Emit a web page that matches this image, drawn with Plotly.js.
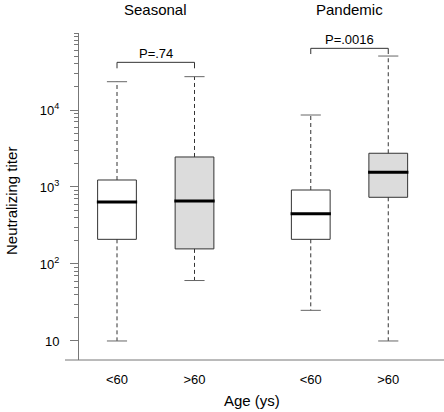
<!DOCTYPE html>
<html>
<head>
<meta charset="utf-8">
<script src="https://cdn.plot.ly/plotly-3.0.1.min.js"></script>
<style>html,body{margin:0;padding:0;background:#fff;}#chart{width:444px;height:412px;}</style>
</head>
<body>
<div id="chart"></div>
<script>
// ---- data ----
const groups = ["Seasonal", "Pandemic"];
const ageLabels = ["<60", ">60", "<60", ">60"];
const lowerWhisker = [10, 61, 25, 10];
const q1 = [209, 157, 209, 735];
const median = [638, 658, 450, 1552];
const q3 = [1233, 2454, 914, 2742];
const upperWhisker = [23300, 27100, 8610, 50200];
const pValues = ["P=.74", "P=.0016"];
const bracketTop = [41600, 63200];
const bracketFoot = [34800, 53300];

// ---- layout positions ----
const xPos = [1, 2, 3.5, 4.5];
const groupCenters = [1.5, 4];
const boxWidth = 0.5;
const capHalf = 0.13;
const FONT = "Liberation Sans, Arial, Helvetica, sans-serif";
const fills = ["#ffffff", "#dcdcdc", "#ffffff", "#dcdcdc"];

const traces = [];

// whiskers (dashed)
const wx = [], wy = [];
xPos.forEach((x, i) => {
  wx.push(x, x, null, x, x, null);
  wy.push(q3[i], upperWhisker[i], null, q1[i], lowerWhisker[i], null);
});
traces.push({type: "scatter", mode: "lines", x: wx, y: wy, hoverinfo: "skip",
  line: {color: "#333", width: 1, dash: "4px,3px"}, showlegend: false});

// caps
const cx = [], cy = [];
xPos.forEach((x, i) => {
  cx.push(x - capHalf, x + capHalf, null, x - capHalf, x + capHalf, null);
  cy.push(upperWhisker[i], upperWhisker[i], null, lowerWhisker[i], lowerWhisker[i], null);
});
traces.push({type: "scatter", mode: "lines", x: cx, y: cy, hoverinfo: "skip",
  line: {color: "#666", width: 1}, showlegend: false});

// boxes
xPos.forEach((x, i) => {
  traces.push({type: "box", x: [x], q1: [q1[i]], median: [median[i]], q3: [q3[i]],
    lowerfence: [q1[i]], upperfence: [q3[i]], width: boxWidth, whiskerwidth: 0,
    fillcolor: fills[i], line: {color: "#333", width: 1}, hoverinfo: "skip",
    showlegend: false, boxpoints: false});
});

// medians (thick)
const mx = [], my = [];
xPos.forEach((x, i) => {
  mx.push(x - boxWidth / 2 - 0.01, x + boxWidth / 2 + 0.01, null);
  my.push(median[i], median[i], null);
});
traces.push({type: "scatter", mode: "lines", x: mx, y: my, hoverinfo: "skip",
  line: {color: "#000", width: 3}, showlegend: false});

// p-value brackets
const bx = [], by = [];
[[0, 1], [2, 3]].forEach((pair, g) => {
  bx.push(xPos[pair[0]], xPos[pair[0]], xPos[pair[1]], xPos[pair[1]], null);
  by.push(bracketFoot[g], bracketTop[g], bracketTop[g], bracketFoot[g], null);
});
traces.push({type: "scatter", mode: "lines", x: bx, y: by, hoverinfo: "skip",
  line: {color: "#333", width: 1}, showlegend: false});

// minor tick values on the log axis
const minorVals = [];
for (let d = 10; d <= 10000; d *= 10) {
  for (let m = 2; m <= 9; m++) minorVals.push(m * d);
}
minorVals.push(100000);

const annotations = [];
groups.forEach((g, i) => {
  annotations.push({xref: "x", yref: "paper", x: groupCenters[i], y: 1.072,
    text: g, showarrow: false, xanchor: "center", yanchor: "middle",
    font: {family: FONT, size: 15, color: "#000"}});
  annotations.push({xref: "x", yref: "y", x: groupCenters[i], y: Math.log10(bracketTop[i]),
    text: pValues[i], showarrow: false, xanchor: "center", yanchor: "middle", yshift: 9,
    font: {family: FONT, size: 13, color: "#000"}});
});
annotations.push({xref: "paper", yref: "paper", x: (252 - 79) / 365, y: (360 - 400) / 327,
  text: "Age (ys)", showarrow: false, xanchor: "center", yanchor: "middle",
  font: {family: FONT, size: 15, color: "#000"}});
annotations.push({xref: "paper", yref: "paper", x: (11 - 79) / 365, y: (360 - 201) / 327,
  text: "Neutralizing titer", textangle: -90, showarrow: false, xanchor: "center", yanchor: "middle",
  font: {family: FONT, size: 15, color: "#000"}});

const layout = {
  width: 444, height: 412,
  margin: {l: 79, r: 0, t: 33, b: 52, pad: 0},
  paper_bgcolor: "#fff", plot_bgcolor: "#fff",
  showlegend: false,
  font: {family: FONT, size: 13, color: "#000"},
  xaxis: {
    range: [1 - 38 / 77.5, 1 + 327 / 77.5],
    tickmode: "array", tickvals: xPos, ticktext: ageLabels,
    ticks: "", showline: false, showgrid: false, zeroline: false,
    tickfont: {family: FONT, size: 13, color: "#000"},
    ticklabelstandoff: 10, fixedrange: true
  },
  yaxis: {
    type: "log", range: [0.753, 5.0],
    tickmode: "array", tickvals: [10, 100, 1000, 10000],
    ticktext: ["10", "10<sup>2</sup>", "10<sup>3</sup>", "10<sup>4</sup>"],
    ticks: "outside", ticklen: 8, tickwidth: 1, tickcolor: "#777",
    showline: true, linecolor: "#777", linewidth: 1,
    showgrid: false, zeroline: false,
    tickfont: {family: FONT, size: 13, color: "#000"},
    ticklabelstandoff: 8,
    minor: {tickmode: "array", tickvals: minorVals, ticks: "outside", ticklen: 4,
      tickcolor: "#777", tickwidth: 1, showgrid: false},
    fixedrange: true
  },
  shapes: [
    {type: "line", xref: "paper", yref: "paper", x0: (65 - 79) / 365, x1: 1, y0: 0, y1: 0,
      line: {color: "#777", width: 1}}
  ],
  annotations: annotations
};

Plotly.newPlot("chart", traces, layout, {staticPlot: true, displayModeBar: false});
</script>
</body>
</html>
